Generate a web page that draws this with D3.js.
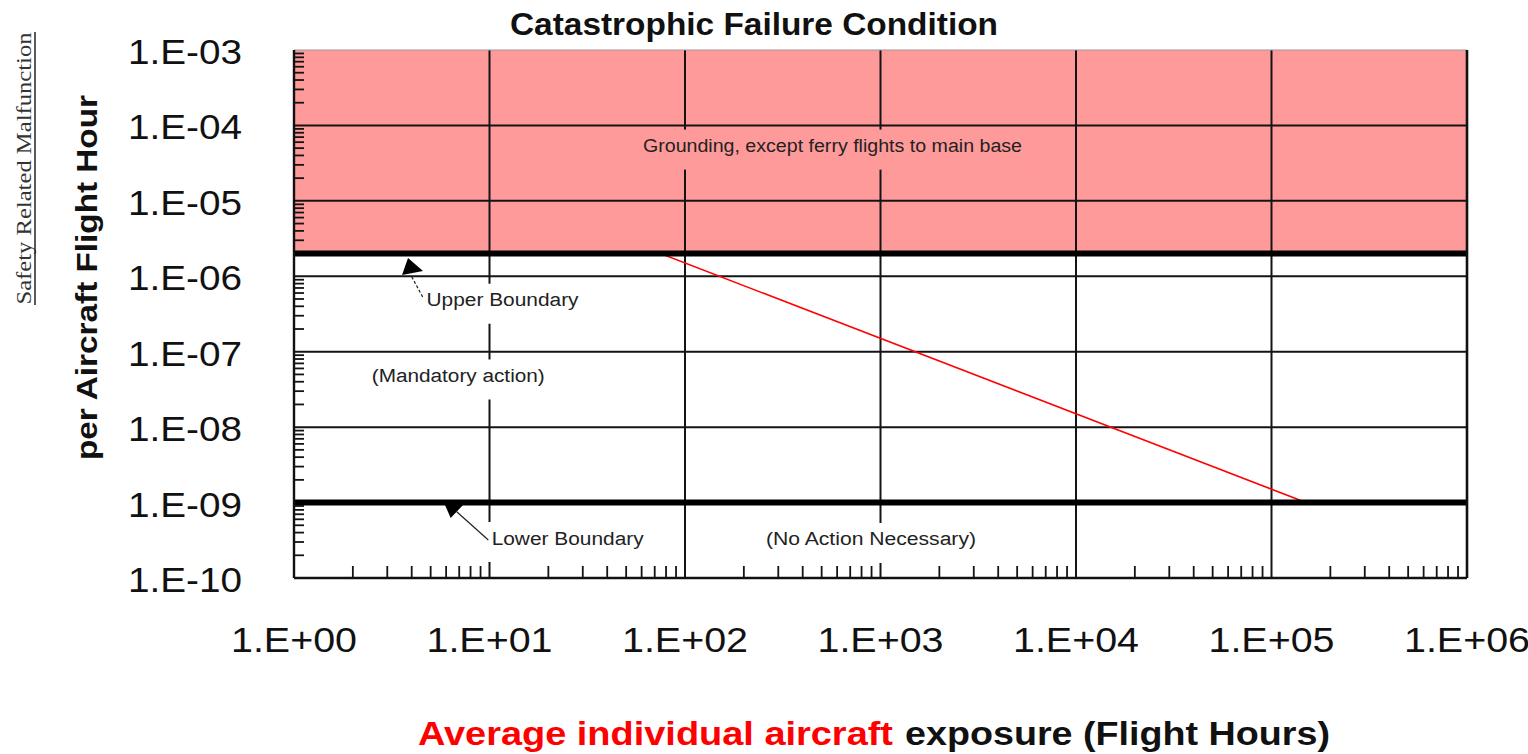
<!DOCTYPE html>
<html>
<head>
<meta charset="utf-8">
<script src="https://cdn.jsdelivr.net/npm/d3@7"></script>
<style>
  body { margin: 0; background: #fff; }
  svg { display: block; }
</style>
</head>
<body>
<svg></svg>
<script>
'use strict';

const width = 1528, height = 754;

// axes: one decade per gridline
const xDecades = [1e0, 1e1, 1e2, 1e3, 1e4, 1e5, 1e6];
const xTickLabels = ["1.E+00", "1.E+01", "1.E+02", "1.E+03", "1.E+04", "1.E+05", "1.E+06"];
const yDecades = [1e-10, 1e-9, 1e-8, 1e-7, 1e-6, 1e-5, 1e-4, 1e-3];
const yTickLabels = ["1.E-10", "1.E-09", "1.E-08", "1.E-07", "1.E-06", "1.E-05", "1.E-04", "1.E-03"];

// zones
const groundingTop = 1e-3;
const upperBoundary = 2e-6;
const lowerBoundary = 1e-9;

// red limit line (flight hours, rate per flight hour)
const trendHours = [75, 1.5e5];
const trendRate = [2e-6, 1e-9];

// annotation texts, centred at (hours, rate)
const noteText = ["Grounding, except ferry flights to main base", "Upper Boundary", "(Mandatory action)", "Lower Boundary", "(No Action Necessary)"];
const noteHours = [568, 11.66, 6.92, 25.1, 894];
const noteRate = [5.4e-5, 4.89e-7, 4.84e-8, 3.39e-10, 3.29e-10];

// arrow heads and leader lines, in (hours, rate)
const upperHead = [[3.83, 1.75e-6], [4.57, 1.175e-6], [3.57, 1.04e-6]];
const upperLeader = [[4.0, 9.87e-7], [4.59, 5.11e-7]];
const lowerHead = [[5.92, 9.29e-10], [7.32, 9.29e-10], [6.33, 6.24e-10]];
const lowerLeader = [[6.8, 7.57e-10], [9.86, 3.19e-10]];

let svg = d3.select("svg")
  .attr("width", width)
  .attr("height", height)
  .attr("viewBox", [0, 0, width, height])
  .style("font-family", "'Liberation Sans', Arial, Helvetica, sans-serif");

let x = d3.scaleLog().domain([1, 1e6]).range([294, 1467]);
let y = d3.scaleLog().domain([1e-10, 1e-3]).range([578, 50]);

const x0 = x(1), x1 = x(1e6), yTop = y(1e-3), yBot = y(1e-10);
const isDecade = d => Math.abs(Math.log10(d) - Math.round(Math.log10(d))) < 1e-9;

// grounding zone
svg.append("rect")
  .attr("x", x0)
  .attr("y", y(groundingTop))
  .attr("width", x1 - x0)
  .attr("height", y(upperBoundary) - y(groundingTop))
  .attr("fill", "#ff9a9a");

// gridlines
let grid = svg.append("g")
  .attr("stroke", "#141414")
  .attr("stroke-width", 2);

grid.selectAll(".vx")
  .data(xDecades.slice(1, -1))
  .join("line")
    .attr("x1", d => x(d)).attr("x2", d => x(d))
    .attr("y1", yTop).attr("y2", yBot);

grid.selectAll(".hy")
  .data(yDecades.slice(1, -1))
  .join("line")
    .attr("x1", x0).attr("x2", x1)
    .attr("y1", d => y(d)).attr("y2", d => y(d));

// minor ticks, inside the plot
let ticks = svg.append("g")
  .attr("stroke", "#141414")
  .attr("stroke-width", 1.8);

ticks.selectAll(".ty")
  .data(y.ticks().filter(d => !isDecade(d)))
  .join("line")
    .attr("x1", x0).attr("x2", x0 + 10)
    .attr("y1", d => y(d)).attr("y2", d => y(d));

ticks.selectAll(".tx")
  .data(x.ticks().filter(d => !isDecade(d)))
  .join("line")
    .attr("x1", d => x(d)).attr("x2", d => x(d))
    .attr("y1", yBot).attr("y2", yBot - 12);

// annotation labels (with background masking the grid)
const noteWidth = [379, 152, 173, 152, 210];
const noteFill = ["#ff9a9a", "#fff", "#fff", "#fff", "#fff"];

let notes = svg.append("g")
  .selectAll("g")
  .data(noteText.map((t, i) => ({t, i})))
  .join("g")
    .attr("transform", d => `translate(${x(noteHours[d.i])},${y(noteRate[d.i])})`);

notes.append("rect")
  .attr("x", d => -noteWidth[d.i] / 2 - 6)
  .attr("y", -16)
  .attr("width", d => noteWidth[d.i] + 12)
  .attr("height", 40)
  .attr("fill", d => noteFill[d.i]);

notes.append("text")
  .attr("text-anchor", "middle")
  .attr("y", 6.5)
  .attr("font-size", 18)
  .attr("fill", "#222")
  .attr("textLength", d => noteWidth[d.i])
  .attr("lengthAdjust", "spacingAndGlyphs")
  .text(d => d.t);

// red limit line
let line = d3.line()
  .x(d => x(d[0]))
  .y(d => y(d[1]));

svg.append("path")
  .datum(trendHours.map((h, i) => [h, trendRate[i]]))
  .attr("d", line)
  .attr("fill", "none")
  .attr("stroke", "#ff0000")
  .attr("stroke-width", 1.6);

// boundaries
svg.append("g")
  .attr("stroke", "#000")
  .attr("stroke-width", 6)
  .selectAll("line")
  .data([upperBoundary, lowerBoundary])
  .join("line")
    .attr("x1", x0).attr("x2", x1)
    .attr("y1", d => y(d)).attr("y2", d => y(d));

// arrows
svg.append("path")
  .attr("d", line(upperHead) + "Z")
  .attr("fill", "#000");
svg.append("path")
  .attr("d", line(upperLeader))
  .attr("stroke", "#222")
  .attr("stroke-width", 1.2)
  .attr("stroke-dasharray", "3,2");
svg.append("path")
  .attr("d", line(lowerHead) + "Z")
  .attr("fill", "#000");
svg.append("path")
  .attr("d", line(lowerLeader))
  .attr("stroke", "#222")
  .attr("stroke-width", 1.2);

// frame
svg.append("line")
  .attr("x1", x0).attr("x2", x1).attr("y1", yTop).attr("y2", yTop)
  .attr("stroke", "#999").attr("stroke-width", 1.2);
svg.append("line")
  .attr("x1", x0).attr("x2", x0).attr("y1", yTop).attr("y2", yBot)
  .attr("stroke", "#111").attr("stroke-width", 2.4);
svg.append("line")
  .attr("x1", x0).attr("x2", x1).attr("y1", yBot).attr("y2", yBot)
  .attr("stroke", "#111").attr("stroke-width", 2.4);
svg.append("line")
  .attr("x1", x1).attr("x2", x1).attr("y1", yTop).attr("y2", yBot)
  .attr("stroke", "#111").attr("stroke-width", 2.6);

// tick labels
svg.append("g")
  .attr("font-size", 35)
  .attr("fill", "#111")
  .selectAll("text")
  .data(yDecades)
  .join("text")
    .attr("x", 242)
    .attr("y", d => y(d) + 14)
    .attr("text-anchor", "end")
    .attr("textLength", 114)
    .attr("lengthAdjust", "spacingAndGlyphs")
    .text((d, i) => yTickLabels[i]);

svg.append("g")
  .attr("font-size", 35)
  .attr("fill", "#111")
  .selectAll("text")
  .data(xDecades)
  .join("text")
    .attr("x", d => x(d) - 63)
    .attr("y", 652)
    .attr("textLength", 126)
    .attr("lengthAdjust", "spacingAndGlyphs")
    .text((d, i) => xTickLabels[i]);

// titles
svg.append("text")
  .attr("x", 510).attr("y", 35)
  .attr("font-size", 31).attr("font-weight", "bold").attr("fill", "#111")
  .attr("textLength", 488).attr("lengthAdjust", "spacingAndGlyphs")
  .text("Catastrophic Failure Condition");

svg.append("text")
  .attr("x", 418).attr("y", 745)
  .attr("font-size", 33).attr("font-weight", "bold").attr("fill", "#ff0000")
  .attr("textLength", 475).attr("lengthAdjust", "spacingAndGlyphs")
  .text("Average individual aircraft");

svg.append("text")
  .attr("x", 905).attr("y", 745)
  .attr("font-size", 33).attr("font-weight", "bold").attr("fill", "#111")
  .attr("textLength", 425).attr("lengthAdjust", "spacingAndGlyphs")
  .text("exposure (Flight Hours)");

svg.append("text")
  .attr("transform", "translate(97,277.5) rotate(-90)")
  .attr("text-anchor", "middle")
  .attr("font-size", 30).attr("font-weight", "bold").attr("fill", "#111")
  .attr("textLength", 365).attr("lengthAdjust", "spacingAndGlyphs")
  .text("per Aircraft Flight Hour");

svg.append("text")
  .attr("transform", "translate(31,168.5) rotate(-90)")
  .attr("text-anchor", "middle")
  .attr("font-family", "'Liberation Serif', 'Times New Roman', serif")
  .attr("font-size", 20).attr("fill", "#333")
  .attr("textLength", 272).attr("lengthAdjust", "spacingAndGlyphs")
  .text("Safety Related Malfunction");

svg.append("line")
  .attr("x1", 35).attr("x2", 35).attr("y1", 32).attr("y2", 305)
  .attr("stroke", "#222").attr("stroke-width", 1.5);
</script>
</body>
</html>
